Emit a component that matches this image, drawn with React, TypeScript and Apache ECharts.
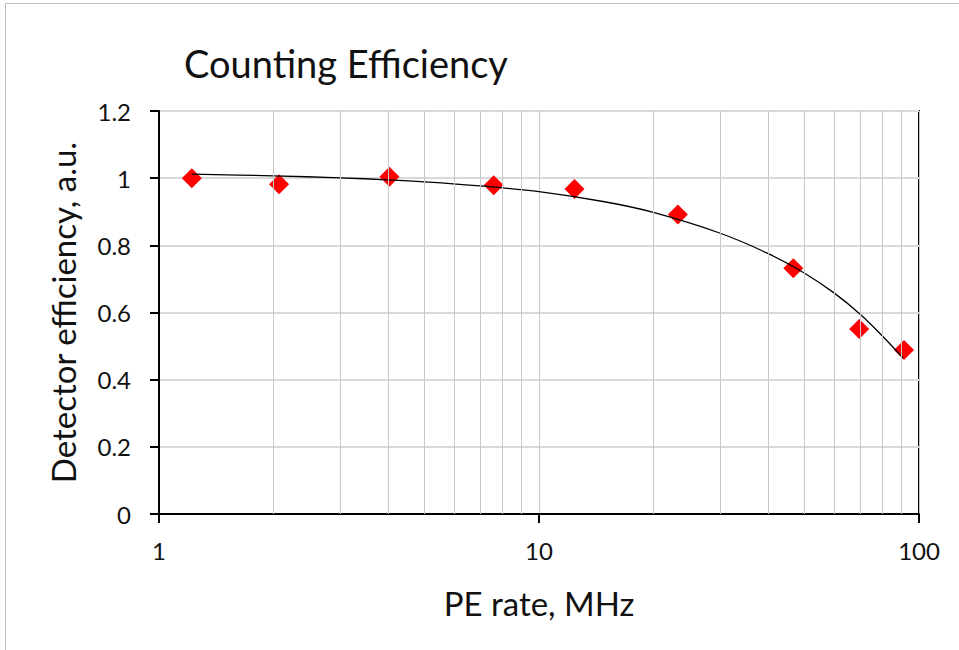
import React, { useEffect, useRef } from "react";
import * as echarts from "echarts";

// Measured data points (PE rate in MHz, detector efficiency)
const peRate = [1.22, 2.07, 4.04, 7.6, 12.4, 23.2, 46.7, 69.6, 91.3];
const efficiency = [1.0, 0.982, 1.004, 0.979, 0.968, 0.892, 0.732, 0.551, 0.488];

// Trend line
const trendRate = [1.22, 2, 3, 4, 5, 7, 10, 15, 20, 30, 40, 50, 60, 70, 80, 90.9];
const trendEff = [1.012, 1.007, 1.001, 0.995, 0.989, 0.977, 0.96, 0.929, 0.898, 0.836, 0.776, 0.717, 0.657, 0.595, 0.531, 0.464];

// Minor log gridlines
const minorGrid = [2, 3, 4, 5, 6, 7, 8, 9, 20, 30, 40, 50, 60, 70, 80, 90];

const X_MIN = 1;
const X_MAX = 100;
const Y_MIN = 0;
const Y_MAX = 1.2;
const Y_STEP = 0.2;

const TITLE = "Counting Efficiency";
const X_NAME = "PE rate, MHz";
const Y_NAME = "Detector efficiency, a.u.";

const FONT = "Lato";
const TEXT = "#111111";

export default function App() {
  const ref = useRef<HTMLDivElement>(null);
  useEffect(() => {
    if (!ref.current) return;
    const chart = echarts.init(ref.current, undefined, { renderer: "svg" });
    const scatterData = peRate.map((x, i) => [x, efficiency[i]]);
    const trendData = trendRate.map((x, i) => [x, trendEff[i]]);
    chart.setOption({
      animation: false,
      backgroundColor: "#ffffff",
      textStyle: { fontFamily: FONT },
      title: {
        text: TITLE,
        left: 184,
        top: 44,
        padding: 0,
        textStyle: { fontFamily: FONT, fontSize: 38, fontWeight: "normal", color: TEXT },
      },
      graphic: [
        {
          type: "rect",
          shape: { x: 5.5, y: 3.5, width: 2000, height: 2000 },
          style: { fill: "none", stroke: "#bdbdbd", lineWidth: 1 },
          silent: true,
        },
      ],
      grid: {
        left: 159,
        top: 111,
        right: 40,
        bottom: 136,
        show: true,
        borderColor: "#000000",
        borderWidth: 2,
        backgroundColor: "transparent",
      },
      xAxis: {
        type: "log",
        logBase: 10,
        min: X_MIN,
        max: X_MAX,
        name: X_NAME,
        nameLocation: "middle",
        nameGap: 72,
        nameTextStyle: { fontFamily: FONT, fontSize: 33, color: TEXT },
        axisLine: { show: true, lineStyle: { color: "#000", width: 2 } },
        axisTick: { show: true, inside: false, length: 9, lineStyle: { color: "#000", width: 2 } },
        axisLabel: { fontFamily: FONT, fontSize: 24, color: TEXT, margin: 24 },
        splitLine: { show: true, lineStyle: { color: "#c8c8c8", width: 1 } },
        minorTick: { show: false },
        minorSplitLine: { show: false },
      },
      yAxis: {
        type: "value",
        min: Y_MIN,
        max: Y_MAX,
        interval: Y_STEP,
        name: Y_NAME,
        nameLocation: "middle",
        nameGap: 80,
        nameTextStyle: { fontFamily: FONT, fontSize: 33, color: TEXT },
        axisLine: { show: true, lineStyle: { color: "#000", width: 2 } },
        axisTick: { show: true, inside: false, length: 9, lineStyle: { color: "#000", width: 2 } },
        axisLabel: {
          fontFamily: FONT,
          fontSize: 24,
          color: TEXT,
          margin: 28,
          formatter: (v: number) => String(+v.toFixed(1)),
        },
        splitLine: { show: true, lineStyle: { color: "#d9d9d9", width: 2 } },
      },
      series: [
        {
          type: "line",
          data: [],
          silent: true,
          markLine: {
            silent: true,
            symbol: "none",
            label: { show: false },
            lineStyle: { color: "#c8c8c8", width: 1, type: "solid" },
            data: minorGrid.map((v) => ({ xAxis: v })),
          },
          z: 1,
        },
        {
          type: "scatter",
          data: scatterData,
          symbol: "diamond",
          symbolSize: 20,
          itemStyle: { color: "#ff0000", opacity: 1 },
          z: 3,
        },
        {
          type: "line",
          data: trendData,
          showSymbol: false,
          symbol: "none",
          smooth: 0.3,
          lineStyle: { color: "#000000", width: 1.3 },
          z: 4,
        },
      ],
    });
    return () => chart.dispose();
  }, []);
  return (
    <div
      ref={ref}
      style={{ position: "fixed", left: 0, top: 0, width: 959, height: 650 }}
    />
  );
}
